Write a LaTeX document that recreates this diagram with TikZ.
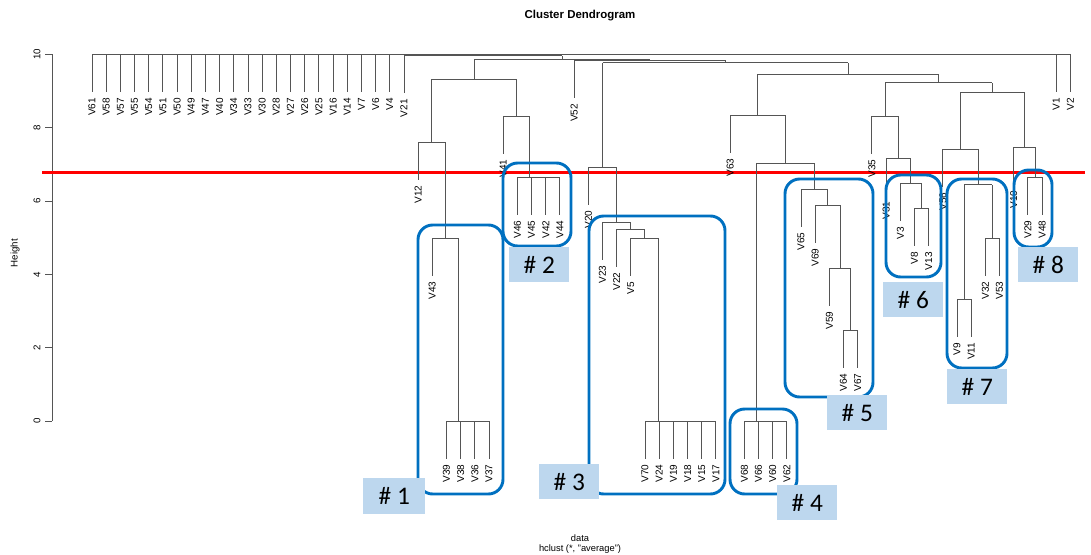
\documentclass[tikz,border=0pt]{standalone}
\usepackage{fontspec}
\setmainfont{Liberation Sans}
\newfontfamily\tagfont{Carlito}
\definecolor{boxblue}{RGB}{0,112,192}
\definecolor{tagfill}{RGB}{189,215,238}
\definecolor{cutred}{RGB}{255,0,0}
\definecolor{dendgray}{RGB}{85,85,85}
\begin{document}
\begin{tikzpicture}[x=0.75pt,y=-0.75pt,
  dend/.style={draw=dendgray,line width=0.65pt},
  leaf/.style={rotate=90,anchor=east,inner sep=0pt,font=\fontsize{7.5}{8}\selectfont},
  ticklab/.style={rotate=90,inner sep=0pt,font=\fontsize{7.3}{8}\selectfont},
  clbox/.style={draw=boxblue,line width=2.2pt,rounded corners=11pt},
  tag/.style={fill=tagfill,anchor=north west,minimum width=45pt,minimum height=26.25pt,inner sep=0pt,font=\tagfont\fontsize{19}{20}\selectfont}]
\useasboundingbox (0,0) rectangle (1091,554);

% title and axis texts
\node[font=\bfseries\fontsize{8.6}{10}\selectfont] (title) at (580,16) {Cluster Dendrogram};
\node[font=\fontsize{7}{8}\selectfont] (xlab) at (580,538) {data};
\node[font=\fontsize{7}{8}\selectfont] (sub) at (580,549) {hclust (*, "average")};
\node[ticklab] (ylab) at (15,253) {Height};

% y axis
\draw[dend] (52,54.3) -- (52,421);
\foreach \h/\yy in {0/421,2/347.7,4/274.3,6/201,8/127.7,10/54.3}{
  \draw[dend] (45,\yy) -- (52,\yy);
  \node[ticklab] (tick\h) at (37,\yy) {\h};
}

% cut line
\draw[cutred,line width=2.3pt] (42,172.5) -- (1085,172.5);

% horizontal merge lines
\foreach \yy/\a/\b in {54.3/92.0/1070.4, 55.5/404.0/562.0, 59.3/474.2/649.8, 60.3/574.1/725.4,
  62.5/602.5/848.3, 74/757.8/938.8, 82.7/885.2/992.4, 92/960.5/1024.35,
  147/1013.7/1035, 177/1027.9/1042.1, 149/942.8/978.25, 184.5/964.1/992.4,
  299/957.0/971.2, 238/985.3/999.5, 116/871.9/898.5, 158/886.1/910.9,
  183/900.3/921.5, 208.5/914.4/928.6, 115/730.1/785.5, 163/756.7/814.3,
  421/744.3/786.8, 189/801.0/827.6, 205/815.2/840.0, 268/829.4/850.6,
  330/843.5/857.7, 167/588.3/616.6, 222/602.5/630.7, 229/616.7/644.8,
  238/630.8/658.75, 421/645.0/715.9, 79/431.9/516.5, 142/418.1/445.6,
  238/432.3/458.9, 421/446.5/489.0, 116/503.2/529.8, 177/517.4/559.9}{
  \draw[dend] (\a,\yy) -- (\b,\yy);
}

% vertical links between merges
\foreach \xx/\a/\b in {483.0/55.5/54.3, 562.0/59.3/55.5, 474.2/79/59.3, 649.8/60.3/59.3,
  725.4/62.5/60.3, 602.5/167/62.5, 848.3/74/62.5, 757.8/115/74, 938.8/82.7/74,
  885.2/116/82.7, 992.4/92/82.7, 960.5/149/92, 1024.35/147/92, 1035/177/147,
  978.25/184.5/149, 964.1/299/184.5, 992.4/238/184.5, 898.5/158/116,
  910.9/183/158, 921.5/208.5/183, 785.5/163/115, 756.7/421/163, 814.3/189/163,
  827.6/205/189, 840.0/268/205, 850.6/330/268, 616.6/222/167, 630.7/229/222,
  644.8/238/229, 658.75/421/238, 431.9/142/79, 445.6/238/142, 458.9/421/238,
  516.5/116/79, 529.8/177/116}{
  \draw[dend] (\xx,\a) -- (\xx,\b);
}

% leaves
\foreach \nm/\xx/\yy in {V61/92.0/54.3, V58/106.2/54.3, V57/120.4/54.3, V55/134.5/54.3,
  V54/148.7/54.3, V51/162.9/54.3, V50/177.1/54.3, V49/191.3/54.3, V47/205.4/54.3,
  V40/219.6/54.3, V34/233.8/54.3, V33/248.0/54.3, V30/262.2/54.3, V28/276.3/54.3,
  V27/290.5/54.3, V26/304.7/54.3, V25/318.9/54.3, V16/333.1/54.3, V14/347.2/54.3,
  V7/361.4/54.3, V6/375.6/54.3, V4/389.8/54.3, V21/404.0/55.5, V12/418.1/142,
  V43/432.3/238, V39/446.5/421, V38/460.7/421, V36/474.9/421, V37/489.0/421,
  V41/503.2/116, V46/517.4/177, V45/531.6/177, V42/545.8/177, V44/559.9/177,
  V52/574.1/60.3, V20/588.3/167, V23/602.5/222, V22/616.7/229, V5/630.8/238,
  V70/645.0/421, V24/659.2/421, V19/673.4/421, V18/687.6/421, V15/701.7/421,
  V17/715.9/421, V63/730.1/115, V68/744.3/421, V66/758.5/421, V60/772.6/421,
  V62/786.8/421, V65/801.0/189, V69/815.2/205, V59/829.4/268, V64/843.5/330,
  V67/857.7/330, V35/871.9/116, V31/886.1/158, V3/900.3/183, V8/914.4/208.5,
  V13/928.6/208.5, V56/942.8/149, V9/957.0/299, V11/971.2/299, V32/985.3/238,
  V53/999.5/238, V10/1013.7/147, V29/1027.9/177, V48/1042.1/177, V1/1056.2/54.3,
  V2/1070.4/54.3}{
  \draw[dend] (\xx,\yy) -- (\xx,\yy+37.5);
  \node[leaf] (\nm) at (\xx,\yy+43.5) {\nm};
}

% cluster boxes
\draw[clbox] (418,225) rectangle (503,494);
\draw[clbox] (503,163) rectangle (571,246);
\draw[clbox] (589,216) rectangle (725,494);
\draw[clbox] (730,409) rectangle (797,494);
\draw[clbox] (785,179) rectangle (873,397);
\draw[clbox] (886,175) rectangle (941,277);
\draw[clbox] (947,179) rectangle (1007,368);
\draw[clbox] (1014,170) rectangle (1052,247);

% tags
\node[tag,minimum width=46.5pt,minimum height=27pt] (t1) at (363,478) {\# 1};
\node[tag] (t2) at (509,247) {\# 2};
\node[tag] (t3) at (539,464) {\# 3};
\node[tag] (t4) at (777,485) {\# 4};
\node[tag] (t5) at (827,395) {\# 5};
\node[tag] (t6) at (883,282) {\# 6};
\node[tag] (t7) at (947,369) {\# 7};
\node[tag] (t8) at (1018,247) {\# 8};
\end{tikzpicture}
\end{document}
